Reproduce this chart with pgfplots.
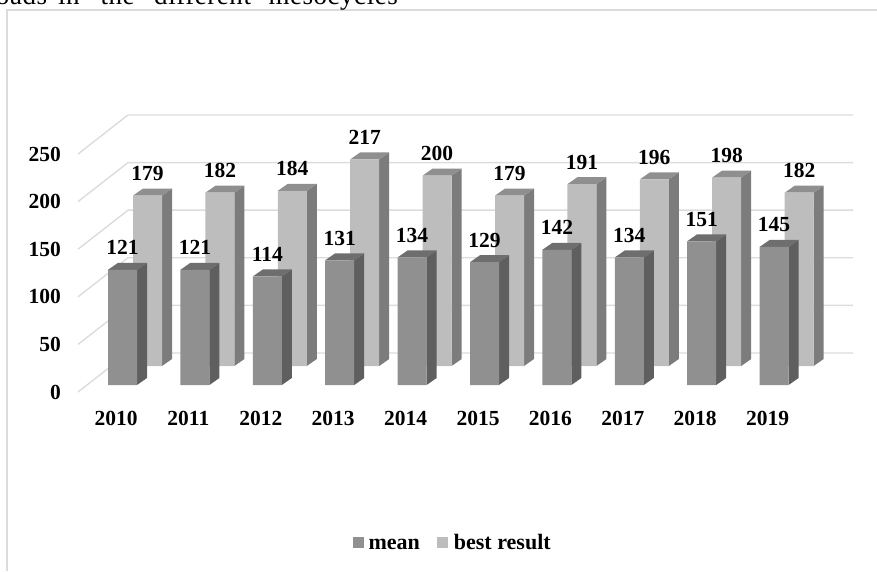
\documentclass[border=0pt]{standalone}
\usepackage{pgfplots}
\pgfplotsset{compat=1.18}
\usepackage{pgfplotstable}
\usepackage{fontspec}
\setmainfont{Liberation Serif}
\newfontfamily\spacedfont[LetterSpace=2]{Liberation Serif}
\definecolor{gridc}{HTML}{DCDCDC}
\definecolor{mf}{HTML}{909090}
\definecolor{ms}{HTML}{5F5F5F}
\definecolor{mt}{HTML}{6E6E6E}
\definecolor{bf}{HTML}{BDBDBD}
\definecolor{bs}{HTML}{7C7C7C}
\definecolor{bt}{HTML}{8F8F8F}
\pgfplotstableread{
year mean
2010 121
2011 121
2012 114
2013 131
2014 134
2015 129
2016 142
2017 134
2018 151
2019 145
}\meantable
\pgfplotstableread{
year best
2010 179
2011 182
2012 184
2013 217
2014 200
2015 179
2016 191
2017 196
2018 198
2019 182
}\besttable
\newcommand{\tdbar}[4]{%
  \pgfmathsetmacro\xl{#1-0.2003}%
  \pgfmathsetmacro\xr{#1+0.2003}%
  \pgfmathsetmacro\xld{\xl+0.138}%
  \pgfmathsetmacro\xrd{\xr+0.138}%
  \pgfmathsetmacro\vt{#2+7.35}%
  \addplot[fill=#3,draw=none,forget plot] coordinates {(\xr,0)(\xrd,7.35)(\xrd,\vt)(\xr,#2)} -- cycle;
  \addplot[fill=#4,draw=none,forget plot] coordinates {(\xl,#2)(\xr,#2)(\xrd,\vt)(\xld,\vt)} -- cycle;
}
\pgfplotsset{
  barax/.style={
    hide axis, scale only axis, clip=false,
    width=775pt, height=285.6pt,
    ymin=0, ymax=300,
    anchor=south west,
  },
  lab/.style={
    nodes near coords,
    point meta=explicit symbolic,
    every node near coord/.append style={font=\fontsize{21.5}{23}\selectfont\bfseries, anchor=center, yshift=22pt, text=black, inner sep=0pt},
  },
}
\begin{document}
\begin{tikzpicture}[x=1pt,y=1pt]
\useasboundingbox (0,0) rectangle (877,571);
\clip (0,0) rectangle (877,571);
\draw[gridc,line width=1.4pt] (7,0) -- (7,561) -- (877,561);
\node[anchor=base east,inner sep=0pt,font=\fontsize{27}{30}\spacedfont] at (398,566.5)
  {loads\hspace{11pt}in\hspace{21pt}the\hspace{19.5pt}different\hspace{17.5pt}mesocycles};
% walls and value axis
\begin{axis}[
  at={(78pt,179pt)}, anchor=south west, scale only axis,
  width=775pt, height=277pt, clip=false,
  xmin=78, xmax=853, ymin=0, ymax=291,
  axis line style={draw=none}, tick style={draw=none},
  ytick={0,50,100,150,200,250},
  xtick={116,188.4,260.8,333.2,405.6,478,550.4,622.8,695.2,767.6},
  xticklabels={2010,2011,2012,2013,2014,2015,2016,2017,2018,2019},
  tick label style={font=\fontsize{21.5}{23}\selectfont\bfseries, /pgf/number format/assume math mode=true},
  yticklabel style={xshift=-13.5pt},
  xticklabel style={yshift=-16pt},
]
\pgfplotsinvokeforeach{0,50,100,150,200,250}{
  \pgfmathsetmacro\yy{#1+41}
  \addplot[gridc,line width=1.4pt] coordinates {(78,#1)(128,\yy)(853,\yy)};
}
\end{axis}
% best result
\begin{axis}[barax, at={(78pt,205pt)}, xmin=2009.04, xmax=2019.744]
\tdbar{2010}{179}{bs}{bt}
\tdbar{2011}{182}{bs}{bt}
\tdbar{2012}{184}{bs}{bt}
\tdbar{2013}{217}{bs}{bt}
\tdbar{2014}{200}{bs}{bt}
\tdbar{2015}{179}{bs}{bt}
\tdbar{2016}{191}{bs}{bt}
\tdbar{2017}{196}{bs}{bt}
\tdbar{2018}{198}{bs}{bt}
\tdbar{2019}{182}{bs}{bt}
\addplot[ybar, bar width=29pt, fill=bf, draw=none, lab] table[x=year,y=best,meta=best] {\besttable};
\end{axis}
% mean
\begin{axis}[barax, at={(78pt,186pt)}, xmin=2009.385, xmax=2020.09,
  legend style={at={(axis cs:2014.56,-165.5)},anchor=center,draw=none,fill=none,
    font=\fontsize{22}{24}\selectfont\bfseries,
    nodes={text height=15pt,text depth=1pt},
    legend columns=2, /tikz/every even column/.append style={column sep=15.5pt}},
  legend image code/.code={\fill[#1,draw=none] (-1pt,-5.5pt) rectangle (10pt,5.5pt);},
]
\tdbar{2010}{121}{ms}{mt}
\tdbar{2011}{121}{ms}{mt}
\tdbar{2012}{114}{ms}{mt}
\tdbar{2013}{131}{ms}{mt}
\tdbar{2014}{134}{ms}{mt}
\tdbar{2015}{129}{ms}{mt}
\tdbar{2016}{142}{ms}{mt}
\tdbar{2017}{134}{ms}{mt}
\tdbar{2018}{151}{ms}{mt}
\tdbar{2019}{145}{ms}{mt}
\addplot[ybar, bar width=29pt, fill=mf, draw=none, lab] table[x=year,y=mean,meta=mean] {\meantable};
\addlegendentry{\hspace*{3pt}mean}
\addlegendimage{fill=bf}
\addlegendentry{\hspace*{3.5pt}best result}
\end{axis}
\end{tikzpicture}
\end{document}
